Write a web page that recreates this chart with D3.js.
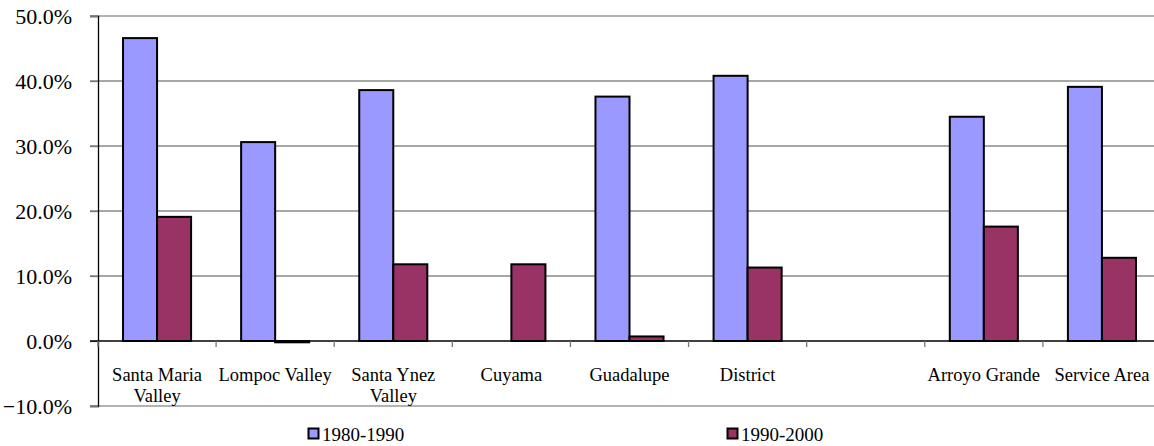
<!DOCTYPE html>
<html>
<head>
<meta charset="utf-8">
<script src="https://cdn.jsdelivr.net/npm/d3@7"></script>
<style>
  body { margin: 0; background: #fff; }
  text { font-family: 'Liberation Serif', 'Times New Roman', Times, serif; }
</style>
</head>
<body>
<svg id="graph" width="1154" height="446"></svg>
<script>
(function() {
// values (percent)
const categories = ['Santa Maria Valley', 'Lompoc Valley', 'Santa Ynez Valley', 'Cuyama',
  'Guadalupe', 'District', '', 'Arroyo Grande', 'Service Area'];
const seriesNames = ['1980-1990', '1990-2000'];
const growth8090 = [46.6, 30.6, 38.6, null, 37.6, 40.8, null, 34.5, 39.1];
const growth9000 = [19.1, -0.2, 11.8, 11.8, 0.7, 11.3, null, 17.6, 12.8];
const yTicks = [-10, 0, 10, 20, 30, 40, 50];
const colors = ['#9999ff', '#993366'];
const fontFam = "'Liberation Serif', 'Times New Roman', Times, serif";

const svg = d3.select('#graph');
const left = 98;
const right = 1161;
const top = 16;
const bottom = 406;

const y = d3.scaleLinear().domain([-10, 50]).range([bottom, top]);
const x = d3.scaleBand().domain(categories.map((d, i) => i)).range([left, right]).paddingInner(0).paddingOuter(0);
const x1 = d3.scaleBand().domain([0, 1]).range([0, x.bandwidth()]).paddingInner(0).paddingOuter(0.735);

// gridlines
svg.append('g')
  .selectAll('line')
  .data(yTicks.filter(d => d !== 0))
  .enter()
  .append('line')
  .attr('x1', left - 8)
  .attr('x2', 1154)
  .attr('y1', d => y(d))
  .attr('y2', d => y(d))
  .attr('stroke', d => (d === 50 || d === -10) ? '#999' : '#8a8a8a')
  .attr('stroke-width', 1.5);

// y axis
const yAxis = svg.append('g')
  .attr('transform', `translate(${left},0)`)
  .call(d3.axisLeft(y).tickValues(yTicks).tickSize(8).tickFormat(d => d3.format('.1f')(d) + '%'));
yAxis.attr('font-family', fontFam);
yAxis.select('.domain').attr('stroke', '#000').attr('stroke-width', 1.3);
yAxis.selectAll('.tick line').attr('stroke', '#777').attr('stroke-width', 1.3);
yAxis.selectAll('.tick text')
  .attr('x', -26)
  .attr('dy', '0.32em')
  .attr('fill', '#000')
  .attr('font-family', fontFam)
  .style('font-size', '22px');

// bars
const seriesData = [growth8090, growth9000];
seriesData.forEach((vals, s) => {
  svg.append('g')
    .selectAll('rect')
    .data(vals.map((v, i) => ({ i, v })).filter(d => d.v !== null))
    .enter()
    .append('rect')
    .attr('x', d => x(d.i) + x1(s))
    .attr('width', x1.bandwidth())
    .attr('y', d => y(Math.max(0, d.v)))
    .attr('height', d => Math.abs(y(d.v) - y(0)))
    .attr('fill', colors[s])
    .attr('stroke', '#000')
    .attr('stroke-width', 2);
});

// x axis at zero
const xAxis = svg.append('g')
  .attr('transform', `translate(0,${y(0)})`);
xAxis.append('line')
  .attr('x1', left - 8)
  .attr('x2', 1154)
  .attr('stroke', '#000')
  .attr('stroke-width', 1.5);
xAxis.selectAll('.xt')
  .data(d3.range(categories.length + 1))
  .enter()
  .append('line')
  .attr('class', 'xt')
  .attr('x1', d => left + d * x.step())
  .attr('x2', d => left + d * x.step())
  .attr('y1', 0)
  .attr('y2', 6)
  .attr('stroke', '#777')
  .attr('stroke-width', 1.3);

// category labels, wrapped to band width
const labels = svg.append('g')
  .selectAll('text')
  .data(categories)
  .enter()
  .append('text')
  .attr('x', (d, i) => x(i) + x.bandwidth() / 2)
  .attr('y', 381)
  .attr('text-anchor', 'middle')
  .attr('font-family', fontFam)
  .style('font-size', '18.5px')
  .attr('fill', '#000');

labels.each(function(d) {
  const el = d3.select(this);
  const words = d.split(' ');
  let line = [];
  let tspan = el.append('tspan').attr('x', el.attr('x')).attr('dy', 0);
  words.forEach(w => {
    line.push(w);
    tspan.text(line.join(' '));
    if (tspan.node().getComputedTextLength() > x.bandwidth() - 1 && line.length > 1) {
      line.pop();
      tspan.text(line.join(' '));
      line = [w];
      tspan = el.append('tspan').attr('x', el.attr('x')).attr('dy', 21).text(w);
    }
  });
});

// legend
const legendX = [308, 727];
const legend = svg.append('g')
  .selectAll('g')
  .data(seriesNames)
  .enter()
  .append('g')
  .attr('transform', (d, i) => `translate(${legendX[i]},428)`);
legend.append('rect')
  .attr('width', 10)
  .attr('height', 10)
  .attr('x', 0.5)
  .attr('y', 0.5)
  .attr('fill', (d, i) => colors[i])
  .attr('stroke', '#000')
  .attr('stroke-width', 2);
legend.append('text')
  .attr('x', 14)
  .attr('y', 12.5)
  .attr('font-family', fontFam)
  .style('font-size', '19px')
  .attr('fill', '#000')
  .text(d => d);
})();
</script>
</body>
</html>
